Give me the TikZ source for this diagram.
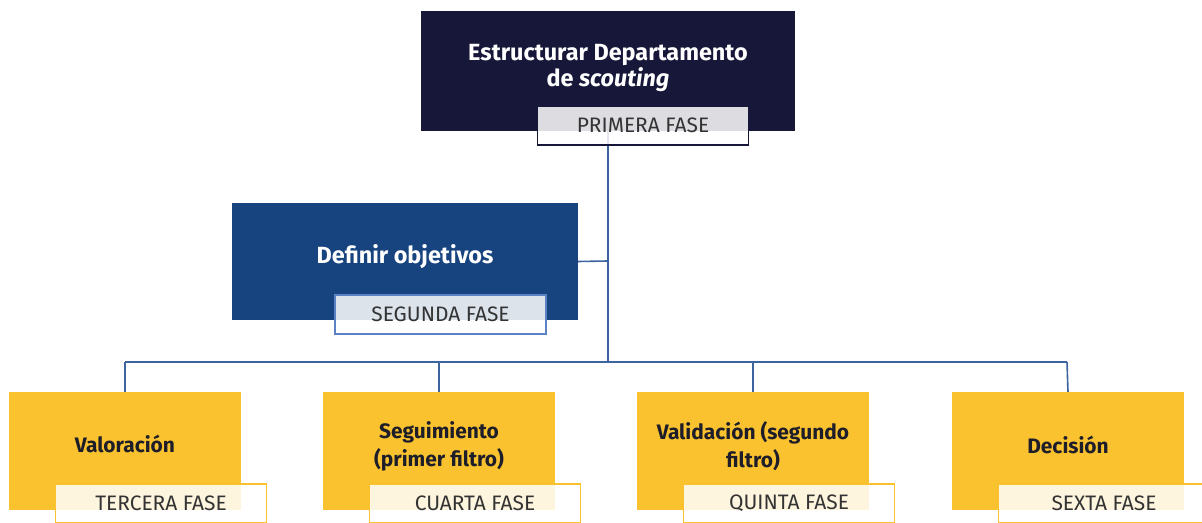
\documentclass[tikz,border=0pt]{standalone}
\usepackage{fontspec}
\setmainfont{Fira Sans}
\definecolor{navy}{HTML}{17173A}
\definecolor{deepblue}{HTML}{17447F}
\definecolor{gold}{HTML}{F9C22E}
\definecolor{linecol}{HTML}{3E64A0}
\definecolor{tagblue}{HTML}{5B82C2}
\definecolor{tagtext}{HTML}{333333}
\definecolor{titledark}{HTML}{1E1E2A}
\begin{document}
\begin{tikzpicture}[x=1bp,y=-1bp,
  conn/.style={draw=linecol, line width=1.6bp},
  plainbox/.style={rectangle, inner sep=0pt, draw=none},
  toptitle/.style={align=center, text=white, font=\bfseries\fontsize{23.5}{26}\selectfont, inner sep=0pt},
  ytitle/.style={align=center, text=titledark, font=\bfseries\fontsize{21}{28}\selectfont, inner sep=0pt},
  tag/.style={rectangle, inner sep=0pt, fill=white, fill opacity=0.85, text opacity=1, draw opacity=1,
    line width=1.4bp, minimum width=211bp, minimum height=39bp, text=tagtext,
    font=\fontsize{21}{24}\selectfont},
  ybox/.style={plainbox, fill=gold, minimum width=232bp, minimum height=118bp}
]
\useasboundingbox (0,0) rectangle (1202,523);

% connector junctions
\coordinate (j) at (608,362);
\coordinate (jl) at (125,362);
\coordinate (jr) at (1067,362);
\coordinate (jb) at (608,261);

% boxes
\node[plainbox, fill=navy, minimum width=374bp, minimum height=120bp] (p1) at (608,71) {};
\node[plainbox, fill=deepblue, minimum width=346bp, minimum height=117bp] (p2) at (405,261.5) {};
\node[ybox] (p3) at (125,451) {};
\node[ybox] (p4) at (439,451) {};
\node[ybox] (p5) at (753,451) {};
\node[ybox] (p6) at (1068,451) {};

\draw[conn] (p1.south) -- (j);
\draw[conn] (p2.east) -- (jb);
\draw[conn] (jl) -- (jr);
\draw[conn] (jl) -- (p3.north);
\draw[conn] (p4.north |- j) -- (p4.north);
\draw[conn] (p5.north |- j) -- (p5.north);
\draw[conn] (jr) -- (p6.north);

% titles
\node[toptitle] (t1) at (608,68) {Estructurar Departamento\\de \textit{scouting}};
\node[toptitle] (t2) at (405,257) {Definir objetivos};
\node[ytitle] (t3) at (125,444) {Valoración};
\node[ytitle] (t4) at (439,446) {Seguimiento\\(primer filtro)};
\node[ytitle] (t5) at (753,446) {Validación (segundo\\filtro)};
\node[ytitle] (t6) at (1068,445) {Decisión};

% phase tags
\node[tag, draw=navy] (l1) at (643,125.5) {PRIMERA FASE};
\node[tag, draw=tagblue] (l2) at (440.5,314.5) {SEGUNDA FASE};
\node[tag, draw=gold] (l3) at (161,503.5) {TERCERA FASE};
\node[tag, draw=gold] (l4) at (475,503.5) {CUARTA FASE};
\node[tag, draw=gold] (l5) at (789,503.5) {QUINTA FASE};
\node[tag, draw=gold] (l6) at (1104,503.5) {SEXTA FASE};
\end{tikzpicture}
\end{document}
